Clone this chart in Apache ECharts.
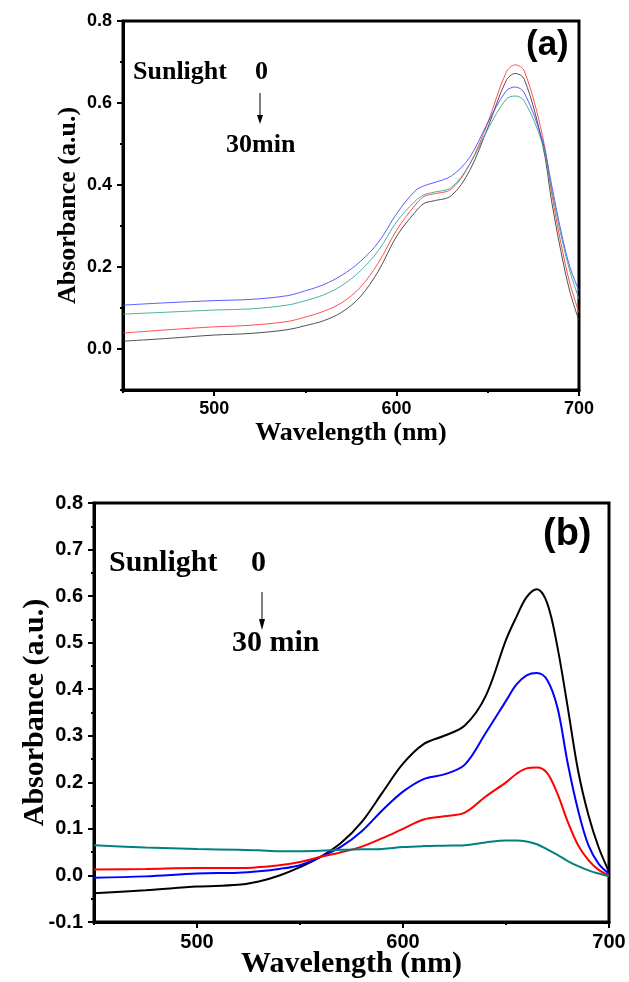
<!DOCTYPE html>
<html>
<head>
<meta charset="utf-8">
<title>Absorbance spectra</title>
<script src="https://cdn.jsdelivr.net/npm/echarts@6/dist/echarts.min.js"></script>
<style>
  html, body { margin: 0; padding: 0; background: #fff; }
  #chart { width: 629px; height: 982px; }
</style>
</head>
<body>
<div id="chart"></div>
<script>
// panel (a) - sampled wavelengths (nm) and absorbance
const waveA = [450, 475, 500, 520, 540, 550, 560, 570, 580, 590, 600, 610, 615, 620, 630, 640, 650, 660, 665, 670, 680, 685, 690, 695, 700];
const blackA = [0.019, 0.026, 0.034, 0.038, 0.047, 0.057, 0.069, 0.09, 0.127, 0.19, 0.275, 0.333, 0.355, 0.361, 0.374, 0.435, 0.54, 0.654, 0.672, 0.658, 0.5, 0.36, 0.24, 0.14, 0.069];
const redA = [0.039, 0.047, 0.054, 0.058, 0.067, 0.078, 0.092, 0.113, 0.15, 0.21, 0.29, 0.35, 0.372, 0.378, 0.39, 0.45, 0.552, 0.674, 0.693, 0.678, 0.52, 0.38, 0.26, 0.16, 0.089];
const blueA = [0.107, 0.113, 0.118, 0.121, 0.13, 0.142, 0.157, 0.18, 0.213, 0.26, 0.33, 0.385, 0.398, 0.405, 0.422, 0.467, 0.552, 0.629, 0.639, 0.625, 0.508, 0.4, 0.29, 0.2, 0.142];
const tealA = [0.085, 0.09, 0.095, 0.098, 0.107, 0.118, 0.132, 0.155, 0.19, 0.24, 0.31, 0.36, 0.376, 0.382, 0.394, 0.45, 0.536, 0.609, 0.617, 0.605, 0.5, 0.39, 0.28, 0.19, 0.122];

// panel (b)
const waveB = [450, 475, 500, 520, 530, 540, 550, 560, 570, 580, 590, 600, 610, 620, 630, 640, 650, 655, 660, 665, 670, 675, 680, 685, 690, 695, 700];
const blackB = [-0.038, -0.032, -0.024, -0.02, -0.013, 0.0, 0.018, 0.04, 0.07, 0.115, 0.178, 0.24, 0.282, 0.3, 0.322, 0.384, 0.506, 0.555, 0.598, 0.615, 0.585, 0.49, 0.36, 0.225, 0.13, 0.06, 0.008];
const blueB = [-0.005, -0.002, 0.004, 0.006, 0.009, 0.014, 0.022, 0.04, 0.062, 0.095, 0.14, 0.18, 0.207, 0.217, 0.238, 0.305, 0.375, 0.41, 0.43, 0.435, 0.42, 0.36, 0.24, 0.14, 0.065, 0.025, 0.004];
const redB = [0.013, 0.014, 0.016, 0.016, 0.018, 0.022, 0.029, 0.04, 0.05, 0.062, 0.08, 0.1, 0.12, 0.127, 0.135, 0.169, 0.2, 0.218, 0.23, 0.232, 0.22, 0.175, 0.115, 0.065, 0.033, 0.012, 0.0];
const tealB = [0.065, 0.06, 0.057, 0.055, 0.054, 0.052, 0.052, 0.053, 0.055, 0.056, 0.057, 0.061, 0.063, 0.064, 0.065, 0.071, 0.075, 0.075, 0.073, 0.067, 0.056, 0.044, 0.031, 0.02, 0.011, 0.004, -0.002];

// tick positions
const xMajor = [500, 600, 700];
const xMinor = [450, 550, 650];
const yMajorA = [0, 0.2, 0.4, 0.6, 0.8];
const yMinorA = [-0.1, 0.1, 0.3, 0.5, 0.7];

function pairs(xs, ys) {
  return xs.map((x, i) => [x, ys[i]]);
}

const chart = echarts.init(document.getElementById("chart"));

const sans = "'Liberation Sans', Arial, sans-serif";
const serif = "'Liberation Serif', 'Times New Roman', serif";

function line(name, xs, ys, color, width, idx, opacity) {
  return {
    name: name,
    type: "line",
    xAxisIndex: idx,
    yAxisIndex: idx,
    data: pairs(xs, ys),
    smooth: 0.35,
    showSymbol: false,
    lineStyle: { color: color, width: width, opacity: opacity },
    z: 3
  };
}

// main x axis (labels + major ticks) for a grid
function xMain(grid, fontSize, nameSize, nameGap) {
  return {
    type: "value",
    gridIndex: grid,
    position: "bottom",
    min: 450,
    max: 700,
    name: "Wavelength (nm)",
    nameLocation: "middle",
    nameGap: nameGap,
    nameMoveOverlap: false,
    nameTextStyle: { fontFamily: serif, fontWeight: "bold", fontSize: nameSize, color: "#000" },
    axisLine: { onZero: false, lineStyle: { color: "#000", width: 3 } },
    axisTick: { customValues: xMajor, length: 6, lineStyle: { width: 2, color: "#000" } },
    axisLabel: {
      customValues: xMajor,
      margin: 10,
      fontFamily: sans,
      fontWeight: "bold",
      fontSize: fontSize,
      color: "#000"
    },
    splitLine: { show: false }
  };
}

function xMinorAxis(grid) {
  return {
    type: "value",
    gridIndex: grid,
    position: "bottom",
    min: 450,
    max: 700,
    axisLine: { show: false, onZero: false },
    axisTick: { customValues: xMinor, length: 3, lineStyle: { width: 2, color: "#000" } },
    axisLabel: { show: false },
    splitLine: { show: false }
  };
}

chart.setOption({
  animation: false,
  backgroundColor: "#fff",
  grid: [
    { left: 123, top: 21, width: 456, height: 369, show: true, borderColor: "#000", borderWidth: 3 },
    { left: 94, top: 503, width: 515, height: 419, show: true, borderColor: "#000", borderWidth: 3 }
  ],
  xAxis: [
    xMain(0, 18, 26, 30),
    xMinorAxis(0),
    xMain(1, 20, 30, 27),
    xMinorAxis(1)
  ],
  yAxis: [
    {
      type: "value",
      gridIndex: 0,
      position: "left",
      min: -0.1,
      max: 0.8,
      name: "Absorbance (a.u.)",
      nameLocation: "middle",
      nameGap: 42,
      nameMoveOverlap: false,
      nameTextStyle: { fontFamily: serif, fontWeight: "bold", fontSize: 26, color: "#000" },
      axisLine: { show: true, onZero: false, lineStyle: { color: "#000", width: 3 } },
      axisTick: { show: true, customValues: yMajorA, length: 6, lineStyle: { width: 2, color: "#000" } },
      axisLabel: {
        customValues: yMajorA,
        margin: 11,
        fontFamily: sans,
        fontWeight: "bold",
        fontSize: 18,
        color: "#000",
        formatter: v => v.toFixed(1)
      },
      splitLine: { show: false }
    },
    {
      type: "value",
      gridIndex: 0,
      position: "left",
      min: -0.1,
      max: 0.8,
      axisLine: { show: false, onZero: false },
      axisTick: { show: true, customValues: yMinorA, length: 3, lineStyle: { width: 2, color: "#000" } },
      axisLabel: { show: false },
      splitLine: { show: false }
    },
    {
      type: "value",
      gridIndex: 1,
      position: "left",
      min: -0.1,
      max: 0.8,
      interval: 0.1,
      name: "Absorbance (a.u.)",
      nameLocation: "middle",
      nameGap: 44,
      nameMoveOverlap: false,
      nameTextStyle: { fontFamily: serif, fontWeight: "bold", fontSize: 30, color: "#000" },
      axisLine: { show: true, onZero: false, lineStyle: { color: "#000", width: 3 } },
      axisTick: { show: true, length: 6, lineStyle: { width: 2, color: "#000" } },
      minorTick: { show: true, splitNumber: 2, length: 3, lineStyle: { width: 2, color: "#000" } },
      axisLabel: {
        margin: 11,
        fontFamily: sans,
        fontWeight: "bold",
        fontSize: 20,
        color: "#000",
        formatter: v => v.toFixed(1)
      },
      splitLine: { show: false }
    }
  ],
  series: [
    line("0 min", waveA, blackA, "#333", 1, 0, 0.85),
    line("red", waveA, redA, "#ff3030", 1, 0, 0.85),
    line("blue", waveA, blueA, "#4040ff", 1, 0, 0.85),
    line("teal", waveA, tealA, "#30a090", 1, 0, 0.85),
    // panel b uses axis index 2
    line("0 min", waveB, blackB, "#000", 2, 2, 1),
    line("blue", waveB, blueB, "#0000ff", 2, 2, 1),
    line("red", waveB, redB, "#ff0000", 2, 2, 1),
    line("30 min", waveB, tealB, "#008080", 2, 2, 1)
  ],
  graphic: [
    // panel (a) annotations
    { type: "text", left: 526, top: 28, style: { text: "(a)", font: "bold 35px " + sans, fill: "#000" } },
    { type: "text", left: 133, top: 59, style: { text: "Sunlight", font: "bold 26px " + serif, fill: "#000" } },
    { type: "text", left: 255, top: 59, style: { text: "0", font: "bold 26px " + serif, fill: "#000" } },
    { type: "line", shape: { x1: 260, y1: 93, x2: 260, y2: 118 }, style: { stroke: "#000", lineWidth: 1 } },
    { type: "polygon", shape: { points: [[257, 115], [263, 115], [260, 124]] }, style: { fill: "#000" } },
    { type: "text", left: 226, top: 132, style: { text: "30min", font: "bold 26px " + serif, fill: "#000" } },
    // panel (b) annotations
    { type: "text", left: 543, top: 516, style: { text: "(b)", font: "bold 38px " + sans, fill: "#000" } },
    { type: "text", left: 109, top: 548, style: { text: "Sunlight", font: "bold 30px " + serif, fill: "#000" } },
    { type: "text", left: 251, top: 548, style: { text: "0", font: "bold 30px " + serif, fill: "#000" } },
    { type: "line", shape: { x1: 262, y1: 592, x2: 262, y2: 622 }, style: { stroke: "#000", lineWidth: 1 } },
    { type: "polygon", shape: { points: [[259, 619], [265, 619], [262, 630]] }, style: { fill: "#000" } },
    { type: "text", left: 232, top: 628, style: { text: "30 min", font: "bold 30px " + serif, fill: "#000" } }
  ]
});
</script>
</body>
</html>
